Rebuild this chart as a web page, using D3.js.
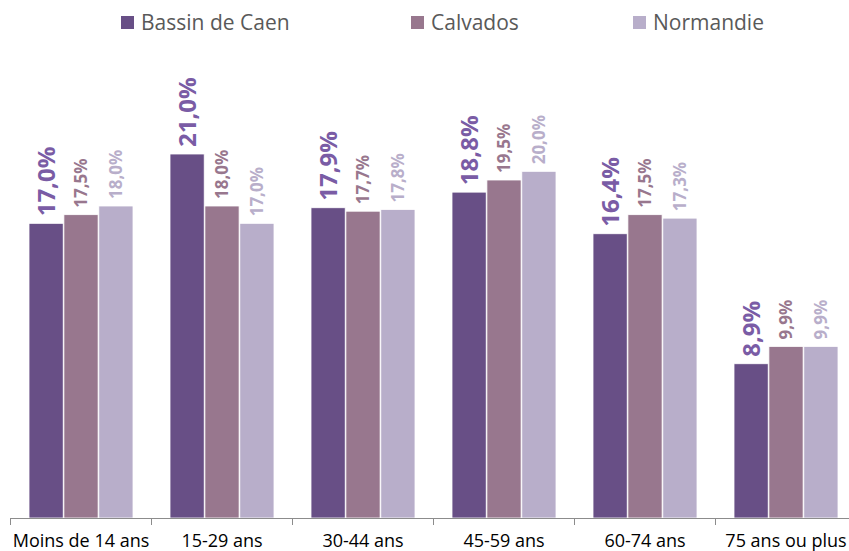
<!DOCTYPE html>
<html><head><meta charset="utf-8">
<script src="https://cdn.jsdelivr.net/npm/d3@7"></script>
<style>body{margin:0;background:#fff}svg{display:block}</style>
</head><body><svg id="c" width="849" height="551"></svg>
<script>
const categories = ["Moins de 14 ans","15-29 ans","30-44 ans","45-59 ans","60-74 ans","75 ans ou plus"];
const seriesNames = ["Bassin de Caen","Calvados","Normandie"];
const bassinDeCaen = [17.0,21.0,17.9,18.8,16.4,8.9];
const calvados = [17.5,18.0,17.7,19.5,17.5,9.9];
const normandie = [18.0,17.0,17.8,20.0,17.3,9.9];
const allValues = [bassinDeCaen, calvados, normandie];

const barColors = ["#684F86","#98778E","#B8AECA"];
const labelColors = ["#7A5CA5","#98778E","#B8AECA"];
const labelSizes = [24, 17, 17];

const svg = d3.select("#c");
const font = "'Liberation Sans Narrow','Open Sans',sans-serif";
const x0 = d3.scaleBand().domain(categories).range([10.5, 856.5]).paddingInner(0).paddingOuter(0);
const x1 = d3.scaleBand().domain(seriesNames).range([18.5, 122.5]).paddingInner(0.02).paddingOuter(0);
const y = d3.scaleLinear().domain([0, 21]).range([518, 154]);

const g = svg.append("g");
categories.forEach((c, i) => {
  seriesNames.forEach((s, j) => {
    const v = allValues[j][i];
    const bx = x0(c) + x1(s);
    g.append("rect").attr("x", bx).attr("y", y(v)).attr("width", x1.bandwidth()).attr("height", y(0) - y(v))
      .attr("fill", barColors[j]).attr("stroke", "#fff").attr("stroke-width", 0.8);
    g.append("text")
      .attr("transform", `translate(${bx + x1.bandwidth()/2 + labelSizes[j]*0.36},${y(v) - 7}) rotate(-90)`)
      .attr("text-anchor", "start")
      .attr("font-family", "'Open Sans',sans-serif").attr("font-weight", "bold")
      .attr("font-size", labelSizes[j]).attr("fill", labelColors[j])
      .text(v.toFixed(1).replace(".", ",") + "%");
  });
});

// axis
const axis = d3.axisBottom(x0).tickSize(0).tickPadding(12);
const ag = svg.append("g").attr("transform", "translate(0,518)").call(axis);
ag.select(".domain").attr("stroke", "#8c8c8c");
ag.selectAll("text").attr("font-family", font).attr("font-size", 18).attr("fill", "#000").attr("dy", "0.95em");
categories.forEach(c => {
  ag.append("line").attr("x1", x0(c)).attr("x2", x0(c)).attr("y1", 0).attr("y2", 7).attr("stroke", "#8c8c8c");
});

// legend
const legX = [121, 411, 633];
seriesNames.forEach((s, j) => {
  svg.append("rect").attr("x", legX[j]).attr("y", 16).attr("width", 13).attr("height", 13).attr("fill", barColors[j]);
  svg.append("text").attr("x", legX[j] + 20).attr("y", 30).attr("font-family", "'Open Sans',sans-serif")
    .attr("font-size", 21).attr("fill", "#595959").text(s);
});
</script></body></html>
